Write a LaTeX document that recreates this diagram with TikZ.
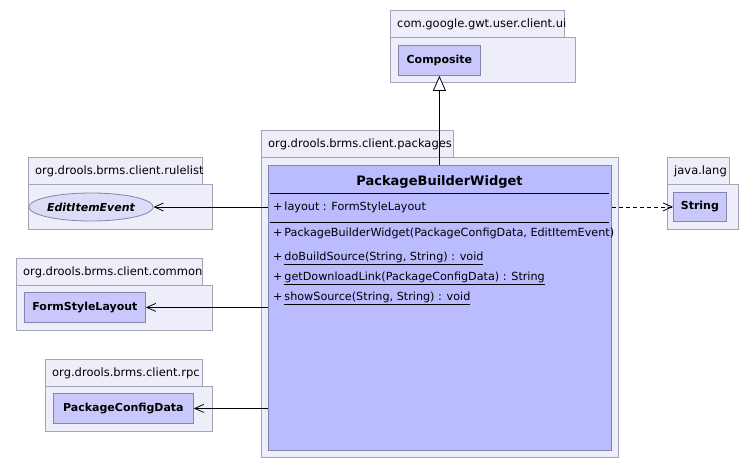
\documentclass[tikz,border=0pt]{standalone}
\usepackage{fontspec}
\setmainfont{DejaVu Sans}
\usetikzlibrary{arrows.meta,shapes.geometric}
\definecolor{pkgfill}{HTML}{EEEEFA}
\definecolor{pkgline}{HTML}{A4A4B8}
\definecolor{clsfill}{HTML}{C8C8FA}
\definecolor{mainfill}{HTML}{BBBBFF}
\definecolor{clsline}{HTML}{8484AC}
\definecolor{ifacefill}{HTML}{DCDCF6}
\tikzset{
  pkgbox/.style={draw=pkgline, fill=pkgfill, line width=0.8pt},
  pkglabel/.style={anchor=west, inner sep=0pt, font=\fontsize{11.5}{13}\selectfont},
  clsbox/.style={draw=clsline, fill=clsfill, line width=0.8pt, anchor=north west, inner sep=0pt, font=\fontsize{11}{13}\selectfont\bfseries},
  member/.style={anchor=west, inner sep=0pt, font=\fontsize{11.2}{13}\selectfont},
  dep/.style={draw=black, line width=0.7pt, -{Straight Barb[length=9pt,width=8pt,line width=0.8pt]}},
}
\begin{document}
\begin{tikzpicture}[x=1pt,y=-1pt]
\useasboundingbox (0,0) rectangle (756,469);
% com.google.gwt.user.client.ui
\draw[pkgbox] (390,10) rectangle (564,37);
\draw[pkgbox] (390,37) rectangle (575,82);
\node[pkglabel] (pkgui) at (397,24) {com.google.gwt.user.client.ui};
\node[clsbox, minimum width=82pt, minimum height=30pt] (composite) at (398,45) {Composite};
% org.drools.brms.client.packages
\draw[pkgbox] (261,130) rectangle (453,157);
\draw[pkgbox] (261,157) rectangle (618,457);
\node[pkglabel] (pkgpk) at (268,144) {org.drools.brms.client.packages};
\node[draw=clsline, fill=mainfill, line width=0.8pt, anchor=north west, minimum width=343pt, minimum height=285pt, inner sep=0pt] (pbw) at (268,165) {};
\node[font=\fontsize{13}{15}\selectfont\bfseries, inner sep=0pt] (pbwname) at (439.5,182) {PackageBuilderWidget};
\draw[line width=0.8pt] (270,193) -- (609,193);
\node[member] (attr) at (273,207) {+\,layout : FormStyleLayout};
\draw[line width=0.8pt] (270,222) -- (609,222);
\node[member] (m1) at (273,233) {+\,PackageBuilderWidget(PackageConfigData, EditItemEvent)};
\node[member] (m2) at (273,258) {+\,\underline{doBuildSource(String, String) : void}};
\node[member] (m3) at (273,278) {+\,\underline{getDownloadLink(PackageConfigData) : String}};
\node[member] (m4) at (273,298) {+\,\underline{showSource(String, String) : void}};
% org.drools.brms.client.rulelist
\draw[pkgbox] (28,157) rectangle (202,184);
\draw[pkgbox] (28,184) rectangle (212,229);
\node[pkglabel] (pkgrl) at (35,171) {org.drools.brms.client.rulelist};
\node[ellipse, draw=clsline, fill=ifacefill, line width=0.8pt, minimum width=112pt, minimum height=28pt, inner sep=0pt, font=\fontsize{11}{13}\selectfont\bfseries\itshape] (edit) at (91,207) {EditItemEvent};
% org.drools.brms.client.common
\draw[pkgbox] (16,258) rectangle (202,285);
\draw[pkgbox] (16,285) rectangle (212,330);
\node[pkglabel] (pkgcm) at (23,272) {org.drools.brms.client.common};
\node[clsbox, minimum width=121pt, minimum height=30pt] (fsl) at (24,292) {FormStyleLayout};
% org.drools.brms.client.rpc
\draw[pkgbox] (45,359) rectangle (202,386);
\draw[pkgbox] (45,386) rectangle (212,431);
\node[pkglabel] (pkgrpc) at (52,373) {org.drools.brms.client.rpc};
\node[clsbox, minimum width=140pt, minimum height=30pt] (pcd) at (53,393) {PackageConfigData};
% java.lang
\draw[pkgbox] (667,157) rectangle (729,184);
\draw[pkgbox] (667,184) rectangle (738,229);
\node[pkglabel] (pkgjl) at (674,171) {java.lang};
\node[clsbox, minimum width=53pt, minimum height=29pt] (string) at (673,192) {String};
% connectors
\draw[line width=0.8pt, -{Triangle[open, fill=white, length=15pt, width=13pt, line width=0.8pt]}] (pbw.north -| composite.south) -- (composite.south);
\draw[dep] (pbw.west |- edit.east) -- (edit.east);
\draw[dep] (pbw.west |- fsl.east) -- (fsl.east);
\draw[dep] (pbw.west |- pcd.east) -- (pcd.east);
\draw[dep, dash pattern=on 4pt off 3pt] (pbw.east |- string.west) -- (string.west);
\end{tikzpicture}
\end{document}
